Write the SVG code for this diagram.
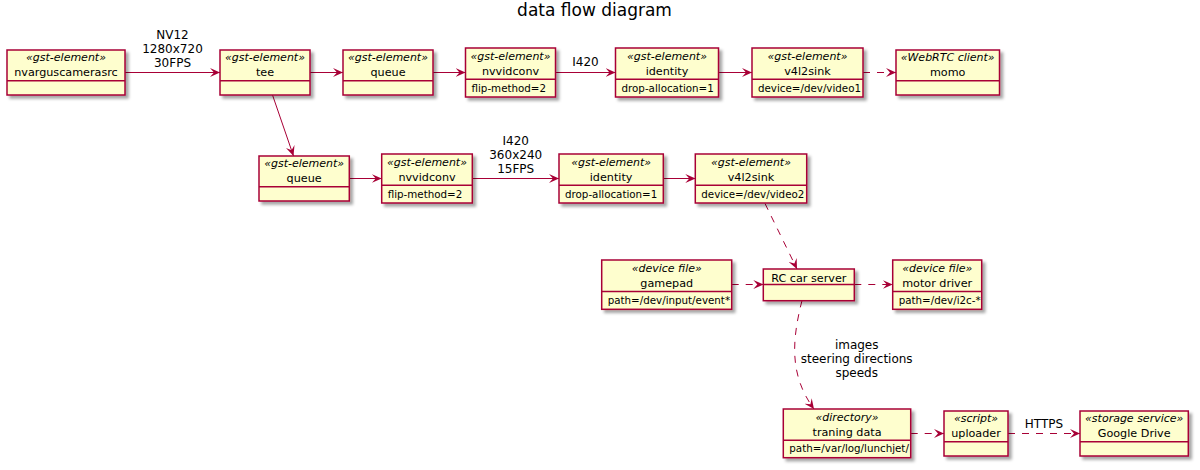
<svg xmlns="http://www.w3.org/2000/svg" width="1200" height="470" viewBox="0 0 1200 470">
<defs>
<filter id="sh" x="-10%" y="-10%" width="130%" height="140%">
<feDropShadow dx="3" dy="3" stdDeviation="1.8" flood-color="#000000" flood-opacity="0.35"/>
</filter>
<marker id="ah" markerWidth="10" markerHeight="9" refX="10" refY="4.5" orient="auto" markerUnits="userSpaceOnUse" viewBox="0 0 10 9">
<path d="M0,0 L10,4.5 L0,9 L4,4.5 Z" fill="#A80036"/>
</marker>
</defs>
<style>
.box{fill:#FEFECE;stroke:#A80036;stroke-width:1.5;filter:url(#sh)}
.sep{stroke:#A80036;stroke-width:1.5}
text{font-family:"DejaVu Sans","Noto Sans",sans-serif;fill:#000000}
.st{font-size:11px;font-style:italic;text-anchor:middle}
.nm{font-size:11.2px;text-anchor:middle}
.at{font-size:10.3px}
.lb{font-size:12px;text-anchor:middle}
.ttl{font-size:17px;text-anchor:middle}
.e{fill:none;stroke:#A80036;stroke-width:1;marker-end:url(#ah)}
.d{stroke-dasharray:7,7}
</style>
<rect width="1200" height="470" fill="#FFFFFF"/>
<text class="ttl" x="594.5" y="16">data flow diagram</text>

<g id="connectors">
<path class="e" d="M125,72.5 L220,72.5"/>
<text class="lb" x="172.5" y="39">NV12</text>
<text class="lb" x="172.5" y="53">1280x720</text>
<text class="lb" x="172.5" y="67">30FPS</text>
<path class="e" d="M310,72.5 L343,72.5"/>
<path class="e" d="M433,72.5 L465.5,72.5"/>
<path class="e" d="M555.5,72.5 L615.5,72.5"/>
<text class="lb" x="585.5" y="66">I420</text>
<path class="e" d="M718.5,72.5 L752,72.5"/>
<path class="e d" d="M863,72.5 L896,72.5"/>
<path class="e" d="M272.5,95 L293.5,156"/>
<path class="e" d="M349.3,178.5 L381.7,178.5"/>
<path class="e" d="M472.3,178.5 L559,178.5"/>
<text class="lb" x="515.7" y="145">I420</text>
<text class="lb" x="515.7" y="159">360x240</text>
<text class="lb" x="515.7" y="173">15FPS</text>
<path class="e" d="M663.3,178.5 L695.3,178.5"/>
<path class="e d" d="M765,203.5 L797,269"/>
<path class="e d" d="M731.7,284.5 L763.3,284.5"/>
<path class="e d" d="M854.3,284.5 L892.7,284.5"/>
<path class="e d" d="M802,300.5 C792,340 789,375 814,409"/>
<text class="lb" x="856.7" y="349">images</text>
<text class="lb" x="856.7" y="363">steering directions</text>
<text class="lb" x="856.7" y="377">speeds</text>
<path class="e d" d="M910.7,433.5 L944,433.5"/>
<path class="e d" d="M1008,433.5 L1080,433.5"/>
<text class="lb" x="1044" y="428">HTTPS</text>
</g>

<g id="nvarguscamerasrc">
<rect class="box" x="7" y="50" width="118" height="45"/>
<line class="sep" x1="7" y1="80.7" x2="125" y2="80.7"/>
<text class="st" x="66" y="61">«gst-element»</text>
<text class="nm" x="66" y="76">nvarguscamerasrc</text>
</g>
<g id="tee">
<rect class="box" x="220" y="50" width="90" height="45"/>
<line class="sep" x1="220" y1="80.7" x2="310" y2="80.7"/>
<text class="st" x="265" y="61">«gst-element»</text>
<text class="nm" x="265" y="76">tee</text>
</g>
<g id="queue1">
<rect class="box" x="343" y="50" width="90" height="45"/>
<line class="sep" x1="343" y1="80.7" x2="433" y2="80.7"/>
<text class="st" x="388" y="61">«gst-element»</text>
<text class="nm" x="388" y="76">queue</text>
</g>
<g id="nvvidconv1">
<rect class="box" x="465.5" y="48" width="90" height="49"/>
<line class="sep" x1="465.5" y1="79.3" x2="555.5" y2="79.3"/>
<text class="st" x="510.5" y="59.5">«gst-element»</text>
<text class="nm" x="510.5" y="74.5">nvvidconv</text>
<text class="at" x="471.5" y="91.5">flip-method=2</text>
</g>
<g id="identity1">
<rect class="box" x="615.5" y="48" width="103" height="49"/>
<line class="sep" x1="615.5" y1="79.3" x2="718.5" y2="79.3"/>
<text class="st" x="667" y="59.5">«gst-element»</text>
<text class="nm" x="667" y="74.5">identity</text>
<text class="at" x="621.5" y="91.5">drop-allocation=1</text>
</g>
<g id="v4l2sink1">
<rect class="box" x="752" y="48" width="111" height="49"/>
<line class="sep" x1="752" y1="79.3" x2="863" y2="79.3"/>
<text class="st" x="807.5" y="59.5">«gst-element»</text>
<text class="nm" x="807.5" y="74.5">v4l2sink</text>
<text class="at" x="758" y="91.5">device=/dev/video1</text>
</g>
<g id="momo">
<rect class="box" x="896" y="50" width="103.5" height="45"/>
<line class="sep" x1="896" y1="80.7" x2="999.5" y2="80.7"/>
<text class="st" x="947.7" y="61">«WebRTC client»</text>
<text class="nm" x="947.7" y="76">momo</text>
</g>

<g id="queue2">
<rect class="box" x="259" y="156" width="90.3" height="45"/>
<line class="sep" x1="259" y1="186.7" x2="349.3" y2="186.7"/>
<text class="st" x="304.1" y="167">«gst-element»</text>
<text class="nm" x="304.1" y="182">queue</text>
</g>
<g id="nvvidconv2">
<rect class="box" x="381.7" y="154" width="90.6" height="49"/>
<line class="sep" x1="381.7" y1="185.3" x2="472.3" y2="185.3"/>
<text class="st" x="427" y="165.5">«gst-element»</text>
<text class="nm" x="427" y="180.5">nvvidconv</text>
<text class="at" x="387.7" y="197.5">flip-method=2</text>
</g>
<g id="identity2">
<rect class="box" x="559" y="154" width="104.3" height="49"/>
<line class="sep" x1="559" y1="185.3" x2="663.3" y2="185.3"/>
<text class="st" x="611.1" y="165.5">«gst-element»</text>
<text class="nm" x="611.1" y="180.5">identity</text>
<text class="at" x="565" y="197.5">drop-allocation=1</text>
</g>
<g id="v4l2sink2">
<rect class="box" x="695.3" y="154" width="111.4" height="49"/>
<line class="sep" x1="695.3" y1="185.3" x2="806.7" y2="185.3"/>
<text class="st" x="751" y="165.5">«gst-element»</text>
<text class="nm" x="751" y="180.5">v4l2sink</text>
<text class="at" x="701.3" y="197.5">device=/dev/video2</text>
</g>

<g id="gamepad">
<rect class="box" x="601.7" y="260" width="130" height="49.3"/>
<line class="sep" x1="601.7" y1="291.5" x2="731.7" y2="291.5"/>
<text class="st" x="666.7" y="271.5">«device file»</text>
<text class="nm" x="666.7" y="286.5">gamepad</text>
<text class="at" x="607.7" y="303.5">path=/dev/input/event*</text>
</g>
<g id="rc-car-server">
<rect class="box" x="763.3" y="269" width="91" height="31.7"/>
<line class="sep" x1="763.3" y1="284.5" x2="854.3" y2="284.5"/>
<text class="nm" x="808.8" y="281.5">RC car server</text>
</g>
<g id="motor-driver">
<rect class="box" x="892.7" y="260" width="89" height="49.3"/>
<line class="sep" x1="892.7" y1="291.5" x2="981.7" y2="291.5"/>
<text class="st" x="937.2" y="271.5">«device file»</text>
<text class="nm" x="937.2" y="286.5">motor driver</text>
<text class="at" x="898.7" y="303.5">path=/dev/i2c-*</text>
</g>

<g id="training-data">
<rect class="box" x="783.3" y="409" width="127.4" height="48.7"/>
<line class="sep" x1="783.3" y1="440.3" x2="910.7" y2="440.3"/>
<text class="st" x="847" y="420.5">«directory»</text>
<text class="nm" x="847" y="435.5">traning data</text>
<text class="at" x="789.3" y="452">path=/var/log/lunchjet/</text>
</g>
<g id="uploader">
<rect class="box" x="944" y="411" width="64" height="45"/>
<line class="sep" x1="944" y1="441.7" x2="1008" y2="441.7"/>
<text class="st" x="976" y="422">«script»</text>
<text class="nm" x="976" y="437">uploader</text>
</g>
<g id="google-drive">
<rect class="box" x="1080" y="411" width="108.3" height="45"/>
<line class="sep" x1="1080" y1="441.7" x2="1188.3" y2="441.7"/>
<text class="st" x="1134.2" y="422">«storage service»</text>
<text class="nm" x="1134.2" y="437">Google Drive</text>
</g>
</svg>
